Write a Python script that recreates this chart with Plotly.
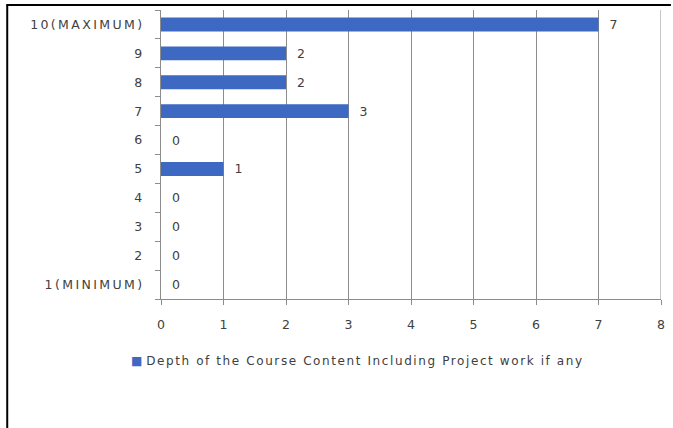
import plotly.graph_objects as go

categories = ["1(MINIMUM)", "2", "3", "4", "5", "6", "7", "8", "9", "10(MAXIMUM)"]
values = [0, 0, 0, 0, 1, 0, 3, 2, 2, 7]
x_ticks = [0, 1, 2, 3, 4, 5, 6, 7, 8]
series_name = "Depth of the Course Content Including Project work if any"

FONT = "DejaVu Sans"
TXT = "#404040"
BAR = "#3E69C3"
GRID = "#8C8C8C"


def spaced(s, px):
    return f"<span style='letter-spacing:{px}px'>{s}</span>"


fig = go.Figure()
fig.add_trace(go.Bar(
    y=categories, x=values, orientation="h", name=series_name,
    marker=dict(color=BAR, line=dict(width=0)),
    text=[f"\u00a0\u00a0{v}" for v in values], textposition="outside",
    constraintext="none",
    textfont=dict(family=FONT, size=12.5, color=TXT),
    cliponaxis=False, showlegend=False,
))

L, R, T, B = 161, 8, 10, 129
W, H = 673, 428
pw, ph = W - L - R, H - T - B

fig.update_layout(
    width=W, height=H,
    margin=dict(l=L, r=R, t=T, b=B),
    paper_bgcolor="white", plot_bgcolor="white",
    bargap=0.52,
    font=dict(family=FONT, size=12, color=TXT),
    showlegend=False,
    xaxis=dict(range=[0, 8], tickvals=x_ticks, showgrid=True,
               gridcolor=GRID, gridwidth=1,
               showline=True, linecolor=GRID, linewidth=1,
               ticks="outside", ticklen=5, tickcolor=GRID,
               zeroline=False, ticklabelstandoff=9,
               tickfont=dict(family=FONT, size=12.5, color=TXT)),
    yaxis=dict(categoryorder="array", categoryarray=categories,
               tickmode="array", tickvals=categories,
               ticktext=[spaced(c, 2.4) for c in categories],
               showline=True, linecolor=GRID, linewidth=1,
               ticks="outside", ticklen=5, tickcolor=GRID,
               tickson="boundaries", showgrid=False,
               ticklabelstandoff=13,
               tickfont=dict(family=FONT, size=12.5, color=TXT)),
)

# gridline at the right end of the axis
fig.add_shape(type="line", xref="x", yref="paper",
              x0=x_ticks[-1], x1=x_ticks[-1], y0=0, y1=1,
              line=dict(color=GRID, width=1))

# legend drawn as text (small square marker + label)
fig.add_annotation(
    xref="paper", yref="paper",
    x=(129 - L) / pw, xanchor="left",
    y=-(361 - (H - B)) / ph, yanchor="middle",
    text=f"<span style='color:{BAR}'>■</span> " + spaced(series_name, 1.6),
    showarrow=False, font=dict(family=FONT, size=12, color=TXT),
)

# outer border lines (left and top) as in the cropped reference
fig.add_shape(type="line", xref="paper", yref="paper",
              x0=(6 - L) / pw, x1=(6 - L) / pw, y0=(H - B - 430) / ph, y1=(H - B - 5) / ph,
              line=dict(color="black", width=2))
fig.add_shape(type="line", xref="paper", yref="paper",
              x0=(5 - L) / pw, x1=(675 - L) / pw, y0=(H - B - 5) / ph, y1=(H - B - 5) / ph,
              line=dict(color="black", width=2))

fig.write_html("out.html", config={"displayModeBar": False},
               post_script="document.body.style.margin='0';document.body.style.overflow='hidden';")
